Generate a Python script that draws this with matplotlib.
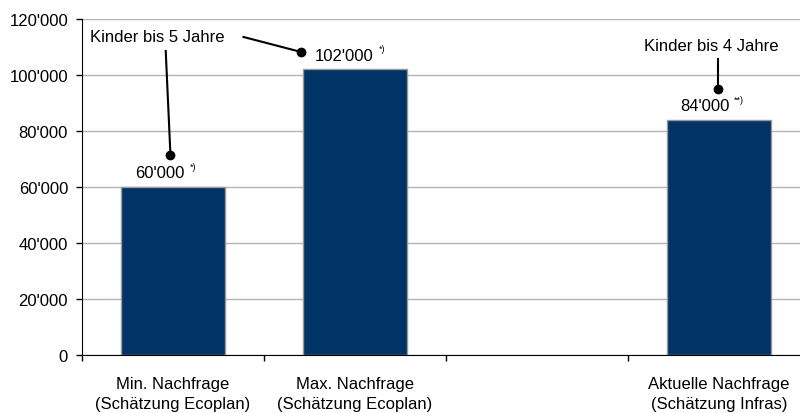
import matplotlib
matplotlib.use("Agg")
from matplotlib import pyplot as plt
import numpy as np

# chart data
categories = ["Min. Nachfrage\n(Schätzung Ecoplan)",
              "Max. Nachfrage\n(Schätzung Ecoplan)",
              "",
              "Aktuelle Nachfrage\n(Schätzung Infras)"]
values = [60000, 102000, None, 84000]
value_labels = ["60'000", "102'000", None, "84'000"]
footnotes = ["*)", "*)", None, "**)"]
yticks = [0, 20000, 40000, 60000, 80000, 100000, 120000]
note_ecoplan = "Kinder bis 5 Jahre"
note_infras = "Kinder bis 4 Jahre"

BAR = "#003366"
GRID = "#b3b3b3"
# horizontal shift (points) of each value label's right edge from the bar centre
label_dx = [8.5, 13.5, 0, 7.5]

plt.rcParams["font.family"] = ["Liberation Sans", "DejaVu Sans"]
plt.rcParams["font.size"] = 12

fig = plt.figure(figsize=(8.0, 4.14), dpi=100)
# axes runs a bit past the right edge of the figure, like the original
ax = fig.add_axes([0.1025, 0.140, 0.91, 0.8116])

pos = [i for i, v in enumerate(values) if v is not None]
hts = [values[i] for i in pos]
ax.bar(pos, hts, width=0.57, color=BAR, edgecolor="#999999", linewidth=1, zorder=2)

ax.set_xlim(-0.5, len(categories) - 0.5)
ax.set_ylim(0, max(yticks))

# y axis
ax.set_yticks(yticks)
ax.set_yticklabels([f"{v:,}".replace(",", "'") for v in yticks])
ax.yaxis.grid(True, color=GRID, linewidth=1, zorder=0)
ax.tick_params(axis="y", length=4, width=1, pad=6, direction="out")

# x axis: tick marks between slots, labels in the middle
ax.set_xticks(np.arange(len(categories)) - 0.5)
ax.set_xticklabels([])
ax.set_xticks(np.arange(len(categories)), minor=True)
ax.set_xticklabels(categories, minor=True, linespacing=1.4)
ax.tick_params(axis="x", which="major", length=4, width=1, direction="out")
ax.tick_params(axis="x", which="minor", length=0, pad=15)

for s in ["top", "right"]:
    ax.spines[s].set_visible(False)
ax.spines["left"].set_color("black")
ax.spines["bottom"].set_color("black")
ax.set_axisbelow(True)

# value labels with small footnote marks
for i in pos:
    ax.annotate(value_labels[i], xy=(i, values[i]), xytext=(label_dx[i], 7),
                textcoords="offset points", ha="right", va="baseline", fontsize=12)
    ax.annotate(footnotes[i], xy=(i, values[i]), xytext=(label_dx[i] + 3.5, 13),
                textcoords="offset points", ha="left", va="baseline", fontsize=6.5)

# callouts
ax.text(-0.085, 113900, note_ecoplan, ha="center", va="center", fontsize=12)
ax.plot([-0.04, -0.014], [108600, 71400], color="black", lw=1.5, zorder=3)
ax.plot([0.387, 1 - 0.294], [113600, 108200], color="black", lw=1.5, zorder=3)
ax.plot([-0.014, 1 - 0.294], [71400, 108200], "o", color="black", ms=6, zorder=3)

ax.text(2.959, 110700, note_infras, ha="center", va="center", fontsize=12)
ax.plot([2.997, 2.997], [105700, 95000], color="black", lw=1.5, zorder=3)
ax.plot([2.997], [95000], "o", color="black", ms=6, zorder=3)

plt.savefig("out.png", dpi=100)
